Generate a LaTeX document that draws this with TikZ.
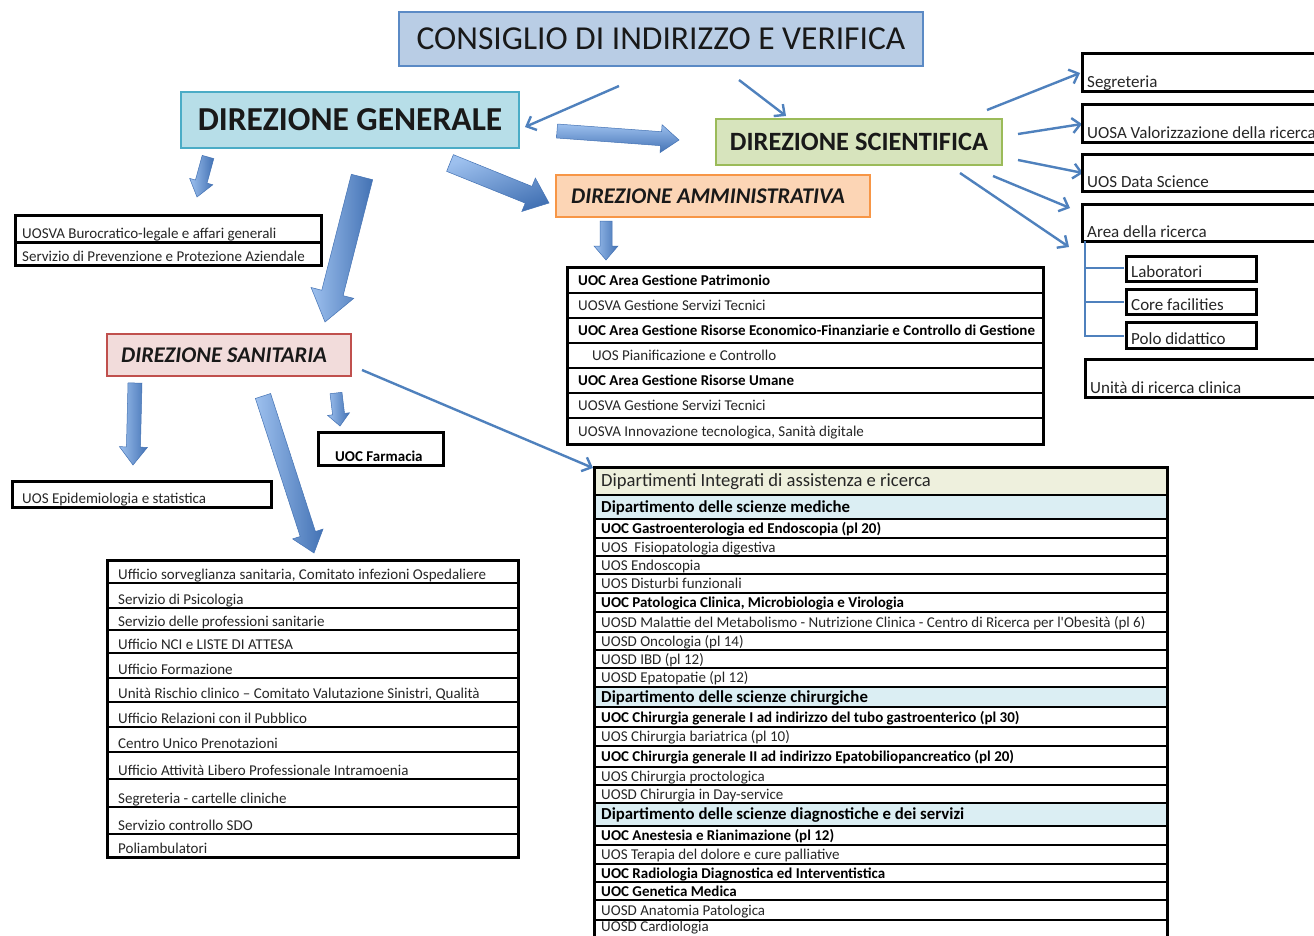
\documentclass[tikz,border=0pt]{standalone}
\usepackage{fontspec}
\setmainfont{Carlito}
\usetikzlibrary{calc,arrows.meta}
\definecolor{ablue}{HTML}{4F81BD}
\definecolor{ablueL}{HTML}{9DC0EE}
\definecolor{ablueD}{HTML}{4372B4}
\definecolor{consF}{HTML}{B9CDE5}
\definecolor{consD}{HTML}{5B8AC5}
\definecolor{dgF}{HTML}{B7DEE8}
\definecolor{dgD}{HTML}{4BACC6}
\definecolor{dsF}{HTML}{D7E4BD}
\definecolor{dsD}{HTML}{9BBB59}
\definecolor{daF}{HTML}{FCD5B5}
\definecolor{daD}{HTML}{F79646}
\definecolor{dsanF}{HTML}{F2DCDB}
\definecolor{dsanD}{HTML}{C0504D}
\definecolor{hdrF}{HTML}{EEF0DD}
\definecolor{depF}{HTML}{DBEEF3}
\definecolor{txt}{HTML}{262626}

\newcommand{\txoff}{7}
\newcommand{\brow}[8]{%
  \filldraw[fill=#6, cell] (#2,#4) rectangle (#3,#5);
  \node[cellt, #7] (#1) at ({#2+\txoff},{#5-4}) {#8};}
\newcommand{\crow}[8]{%
  \filldraw[fill=#6, cell] (#2,#4) rectangle (#3,#5);
  \node[cellt, #7] (#1) at ({#2+\txoff},{(#4+#5)/2+5}) {#8};}
\newcommand{\fatarrow}[6]{%
  \coordinate (fh) at ($(#2)!#5!(#1)$);
  \shadedraw[top color=ablueL, bottom color=ablueD, shading angle=#6, draw=ablueD, line width=0.5pt]
    ($(#1)!#3!90:(#2)$) -- ($(fh)!#3!90:(#2)$) -- ($(fh)!#4!90:(#2)$) -- (#2)
    -- ($(fh)!#4!-90:(#2)$) -- ($(fh)!#3!-90:(#2)$) -- ($(#1)!#3!-90:(#2)$) -- cycle;}

\begin{document}
\begin{tikzpicture}[x=1pt,y=-1pt,
  title/.style={draw, line width=2.5pt, inner sep=0pt, text=black!90},
  cell/.style={draw=black, line width=1.3pt},
  cellt/.style={anchor=base west, inner sep=0pt, text=txt, font=\fontsize{15}{17}\selectfont},
  boldrow/.style={font=\bfseries\fontsize{15}{17}\selectfont, text=black},
  deprow/.style={font=\bfseries\fontsize{16.8}{19}\selectfont, text=black},
  bigrow/.style={font=\fontsize{17}{19}\selectfont},
  linkarrow/.style={draw=ablue, line width=2.4pt, -{Straight Barb[length=8pt,width=15pt]}},
  bracket/.style={draw=ablue, line width=2.5pt}]
\useasboundingbox (0,0) rectangle (1314,935);
\clip (0,0) rectangle (1314,935);
\fill[white] (0,0) rectangle (1314,935);

% ---------- title boxes
\node[title, fill=consF, draw=consD, minimum width=524pt, minimum height=54pt,
  font=\fontsize{33.5}{38}\selectfont] (cons) at (661,39) {CONSIGLIO DI INDIRIZZO E VERIFICA};
\node[title, fill=dgF, draw=dgD, minimum width=338pt, minimum height=56pt,
  font=\bfseries\fontsize{33.5}{38}\selectfont] (dg) at (350,120) {DIREZIONE GENERALE};
\node[title, fill=dsF, draw=dsD, minimum width=286pt, minimum height=46pt,
  font=\bfseries\fontsize{26.4}{30}\selectfont] (ds) at (859,142) {DIREZIONE SCIENTIFICA};
\node[title, fill=daF, draw=daD, minimum width=314pt, minimum height=42pt,
  font=\bfseries\itshape\fontsize{22.4}{26}\selectfont] (da) at (713,196) {DIREZIONE AMMINISTRATIVA\hspace*{10pt}};
\node[title, fill=dsanF, draw=dsanD, minimum width=244pt, minimum height=42pt,
  font=\bfseries\itshape\fontsize{22.4}{26}\selectfont] (dsan) at (229,355) {DIREZIONE SANITARIA\hspace*{10pt}};

% ---------- thin arrows
\coordinate (c1s) at (619,86);  \coordinate (c1e) at (525,127);
\coordinate (c2s) at (739,80);  \coordinate (c2e) at (786,116);
\draw[linkarrow] (c1s) -- (c1e);
\draw[linkarrow] (c2s) -- (c2e);
\coordinate (s1s) at (987,110);  \coordinate (s1e) at (1080,73);
\coordinate (s2s) at (1018,134); \coordinate (s2e) at (1082,124);
\coordinate (s3s) at (1018,160); \coordinate (s3e) at (1083,173);
\coordinate (s4s) at (993,176);  \coordinate (s4e) at (1070,208);
\coordinate (s5s) at (960,173);  \coordinate (s5e) at (1069,247);
\foreach \i in {1,...,5} \draw[linkarrow] (s\i s) -- (s\i e);
\coordinate (d1s) at (362,370);  \coordinate (d1e) at (593,468);
\draw[linkarrow] (d1s) -- (d1e);

% ---------- block arrows
\coordinate (b1s) at (208,157); \coordinate (b1e) at (197,197);
\fatarrow{b1s}{b1e}{6pt}{12pt}{16pt}{90}
\coordinate (b2s) at (362,177); \coordinate (b2e) at (325,322);
\fatarrow{b2s}{b2e}{11pt}{22pt}{30pt}{90}
\coordinate (b3s) at (450,163); \coordinate (b3e) at (549,203);
\fatarrow{b3s}{b3e}{9pt}{18pt}{22pt}{20}
\coordinate (b4s) at (557,131); \coordinate (b4e) at (679,140);
\fatarrow{b4s}{b4e}{7pt}{14pt}{18pt}{0}
\coordinate (b5s) at (606,221); \coordinate (b5e) at (606,260);
\fatarrow{b5s}{b5e}{6pt}{12pt}{14pt}{90}
\coordinate (b6s) at (135,383); \coordinate (b6e) at (133,465);
\fatarrow{b6s}{b6e}{7pt}{14pt}{18pt}{90}
\coordinate (b7s) at (263,396); \coordinate (b7e) at (314,553);
\fatarrow{b7s}{b7e}{8pt}{16pt}{20pt}{90}
\coordinate (b8s) at (336,393); \coordinate (b8e) at (340,426);
\fatarrow{b8s}{b8e}{6pt}{11pt}{12pt}{90}

% ---------- UOSVA boxes
\tikzset{cell/.style={draw=black, line width=3pt}}
\renewcommand{\txoff}{7}
\brow{uosva}{15}{321}{215}{242}{white}{}{UOSVA Burocratico-legale e affari generali}
\brow{spp}{15}{321}{242}{265}{white}{}{Servizio di Prevenzione e Protezione Aziendale}
\renewcommand{\txoff}{10}
\brow{epid}{12}{271}{481}{507}{white}{}{UOS Epidemiologia e statistica}
\renewcommand{\txoff}{17}
\brow{farm}{318}{443}{432}{465}{white}{boldrow}{UOC Farmacia}

% ---------- right boxes
\renewcommand{\txoff}{5}
\brow{seg}{1082}{1330}{53}{91}{white}{bigrow}{Segreteria}
\brow{uosa}{1082}{1330}{104}{142}{white}{bigrow}{UOSA Valorizzazione della ricerca}
\brow{dsci}{1082}{1330}{154}{191}{white}{bigrow}{UOS Data Science}
\brow{area}{1082}{1330}{204}{241}{white}{bigrow}{Area della ricerca}
\brow{urc}{1085}{1330}{359}{397}{white}{bigrow}{Unità di ricerca clinica}
\brow{lab}{1126}{1256}{256}{281}{white}{bigrow}{Laboratori}
\brow{core}{1126}{1256}{289}{314}{white}{bigrow}{Core facilities}
\brow{polo}{1126}{1256}{322}{348}{white}{bigrow}{Polo didattico}
\draw[bracket] (1085,241) -- (1085,336) -- (1124,336);
\draw[bracket] (1085,268) -- (1124,268);
\draw[bracket] (1085,302) -- (1124,302);

% ---------- amministrativa list
\tikzset{cell/.style={draw=black, line width=1.3pt}}
\renewcommand{\txoff}{11}
\crow{m1}{567}{1043}{267}{293}{white}{boldrow}{UOC Area Gestione Patrimonio}
\crow{m2}{567}{1043}{293}{318}{white}{}{UOSVA Gestione Servizi Tecnici}
\crow{m3}{567}{1043}{318}{343}{white}{boldrow}{UOC Area Gestione Risorse Economico-Finanziarie e Controllo di Gestione}
\crow{m4}{567}{1043}{343}{368}{white}{}{\hspace*{14pt}UOS Pianificazione e Controllo}
\crow{m5}{567}{1043}{368}{393}{white}{boldrow}{UOC Area Gestione Risorse Umane}
\crow{m6}{567}{1043}{393}{418}{white}{}{UOSVA Gestione Servizi Tecnici}
\crow{m7}{567}{1043}{418}{444}{white}{}{UOSVA Innovazione tecnologica, Sanità digitale}
\draw[line width=3pt] (567,267) rectangle (1043,444);

% ---------- sanitaria list
\renewcommand{\txoff}{11}
\brow{l1}{107}{518}{560}{583}{white}{}{Ufficio sorveglianza sanitaria, Comitato infezioni Ospedaliere}
\brow{l2}{107}{518}{583}{608}{white}{}{Servizio di Psicologia}
\brow{l3}{107}{518}{608}{630}{white}{}{Servizio delle professioni sanitarie}
\brow{l4}{107}{518}{630}{653}{white}{}{Ufficio NCI e LISTE DI ATTESA}
\brow{l5}{107}{518}{653}{678}{white}{}{Ufficio Formazione}
\brow{l6}{107}{518}{678}{702}{white}{}{Unità Rischio clinico -- Comitato Valutazione Sinistri, Qualità}
\brow{l7}{107}{518}{702}{727}{white}{}{Ufficio Relazioni con il Pubblico}
\brow{l8}{107}{518}{727}{752}{white}{}{Centro Unico Prenotazioni}
\brow{l9}{107}{518}{752}{779}{white}{}{Ufficio Attività Libero Professionale Intramoenia}
\brow{l10}{107}{518}{779}{807}{white}{}{Segreteria - cartelle cliniche}
\brow{l11}{107}{518}{807}{834}{white}{}{Servizio controllo SDO}
\brow{l12}{107}{518}{834}{857}{white}{}{Poliambulatori}
\draw[line width=3pt] (107,560) rectangle (518,857);

% ---------- dipartimenti table
\renewcommand{\txoff}{7}
\crow{t0}{594}{1167}{467}{495}{hdrF}{font=\fontsize{18.6}{21}\selectfont}{Dipartimenti Integrati di assistenza e ricerca}
\crow{t1}{594}{1167}{495}{519}{depF}{deprow}{Dipartimento delle scienze mediche}
\crow{t2}{594}{1167}{519}{538}{white}{boldrow}{UOC Gastroenterologia ed Endoscopia (pl 20)}
\crow{t3}{594}{1167}{538}{556}{white}{}{UOS\ \ Fisiopatologia digestiva}
\crow{t4}{594}{1167}{556}{574}{white}{}{UOS Endoscopia}
\crow{t5}{594}{1167}{574}{593}{white}{}{UOS Disturbi funzionali}
\crow{t6}{594}{1167}{593}{612}{white}{boldrow}{UOC Patologica Clinica, Microbiologia e Virologia}
\crow{t7}{594}{1167}{612}{632}{white}{}{UOSD Malattie del Metabolismo - Nutrizione Clinica - Centro di Ricerca per l\textquotesingle Obesità (pl 6)}
\crow{t8}{594}{1167}{632}{650}{white}{}{UOSD Oncologia (pl 14)}
\crow{t9}{594}{1167}{650}{668}{white}{}{UOSD IBD (pl 12)}
\crow{t10}{594}{1167}{668}{687}{white}{}{UOSD Epatopatie (pl 12)}
\crow{t11}{594}{1167}{687}{707}{depF}{deprow}{Dipartimento delle scienze chirurgiche}
\crow{t12}{594}{1167}{707}{727}{white}{boldrow}{UOC Chirurgia generale I ad indirizzo del tubo gastroenterico (pl 30)}
\crow{t13}{594}{1167}{727}{746}{white}{}{UOS Chirurgia bariatrica (pl 10)}
\crow{t14}{594}{1167}{746}{767}{white}{boldrow}{UOC Chirurgia generale II ad indirizzo Epatobiliopancreatico (pl 20)}
\crow{t15}{594}{1167}{767}{785}{white}{}{UOS Chirurgia proctologica}
\crow{t16}{594}{1167}{785}{803}{white}{}{UOSD Chirurgia in Day-service}
\crow{t17}{594}{1167}{803}{826}{depF}{deprow}{Dipartimento delle scienze diagnostiche e dei servizi}
\crow{t18}{594}{1167}{826}{845}{white}{boldrow}{UOC Anestesia e Rianimazione (pl 12)}
\crow{t19}{594}{1167}{845}{864}{white}{}{UOS Terapia del dolore e cure palliative}
\crow{t20}{594}{1167}{864}{882}{white}{boldrow}{UOC Radiologia Diagnostica ed Interventistica}
\crow{t21}{594}{1167}{882}{900}{white}{boldrow}{UOC Genetica Medica}
\crow{t22}{594}{1167}{900}{920}{white}{}{UOSD Anatomia Patologica}
\crow{t23}{594}{1167}{920}{940}{white}{yshift=4pt}{UOSD Cardiologia}
\draw[line width=3pt] (594,467) rectangle (1167,940);
\end{tikzpicture}
\end{document}
